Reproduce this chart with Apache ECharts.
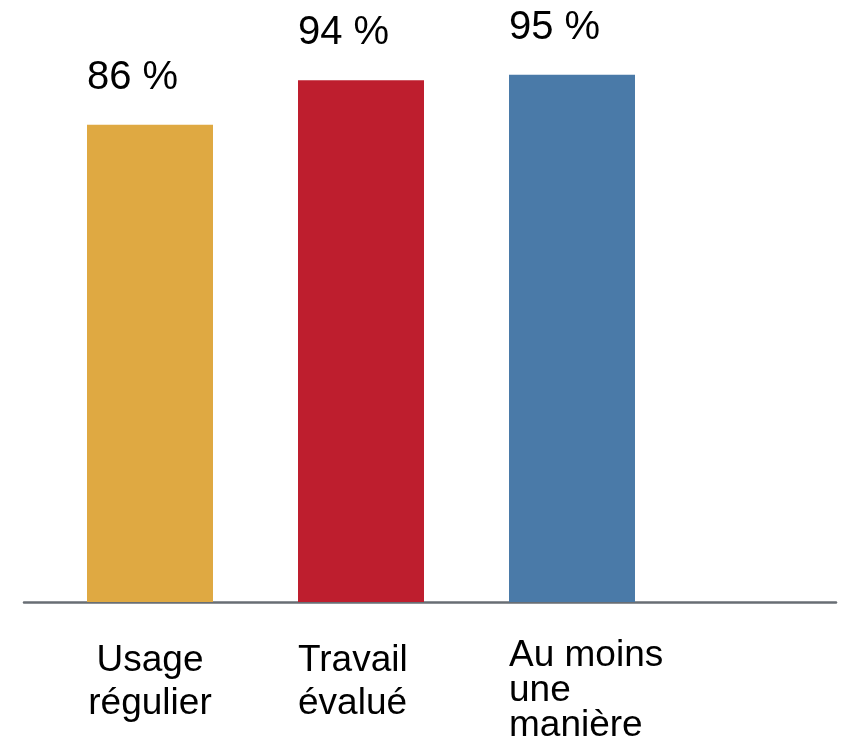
<!DOCTYPE html>
<html>
<head>
<meta charset="utf-8">
<script src="https://cdn.jsdelivr.net/npm/echarts@6/dist/echarts.min.js"></script>
<style>
  html, body { margin: 0; padding: 0; background: #fff; }
  #chart { width: 844px; height: 737px; }
</style>
</head>
<body>
<div id="chart"></div>
<script>
// données
const categories = ['Usage\nrégulier', 'Travail\névalué', 'Au moins\nune\nmanière'];
const values = [86, 94, 95];
const barColors = ['#DFA942', '#BE1E2E', '#4A7AA8'];

const myChart = echarts.init(document.getElementById('chart'));

const option = {
  animation: false,
  textStyle: { fontFamily: '"Liberation Sans", Arial, sans-serif' },
  grid: [
    { left: 44.5, width: 633, top: 47, bottom: 135, outerBoundsMode: 'none' },
    { left: 24, width: 812, top: 47, bottom: 135, outerBoundsMode: 'none' } // juste pour la ligne d'axe
  ],
  xAxis: [
    {
      type: 'category',
      gridIndex: 0,
      data: categories,
      axisLine: { show: false },
      axisTick: { show: false },
      axisLabel: {
        margin: 36,
        interval: 0,
        formatter: function (value, idx) {
          return '{c' + idx + '|' + value + '}';
        },
        rich: {
          c0: { fontSize: 37, lineHeight: 43, color: '#000', align: 'center', padding: [3, 0, 0, 0] },
          c1: { fontSize: 37, lineHeight: 43, color: '#000', width: 126, align: 'left', padding: [3, 0, 0, 0] },
          c2: { fontSize: 37, lineHeight: 35, color: '#000', width: 126, align: 'left' }
        }
      }
    },
    {
      type: 'value',
      gridIndex: 1,
      min: 0,
      max: 1,
      axisLine: { show: true, onZero: false, lineStyle: { color: '#686e74', width: 2.5 } },
      axisTick: { show: false },
      axisLabel: { show: false },
      splitLine: { show: false }
    }
  ],
  yAxis: [
    { type: 'value', gridIndex: 0, min: 0, max: 100, show: false },
    { type: 'value', gridIndex: 1, min: 0, max: 100, show: false }
  ],
  series: [
    {
      type: 'bar',
      xAxisIndex: 0,
      yAxisIndex: 0,
      barWidth: 126,
      data: values.map(function (v, i) {
        return { value: v, itemStyle: { color: barColors[i] } };
      }),
      label: {
        show: true,
        position: [0, -47],
        verticalAlign: 'middle',
        align: 'left',
        fontSize: 40,
        color: '#000',
        formatter: '{c} %'
      }
    }
  ]
};

myChart.setOption(option);
window.addEventListener('resize', function () {
  myChart.resize();
});
</script>
</body>
</html>
